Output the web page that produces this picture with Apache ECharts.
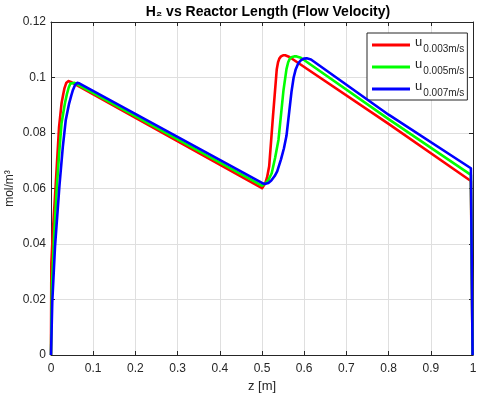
<!DOCTYPE html>
<html>
<head>
<meta charset="utf-8">
<script src="https://cdn.jsdelivr.net/npm/echarts@6/dist/echarts.min.js"></script>
<style>
html,body{margin:0;padding:0;background:#fff;}
#chart{width:480px;height:399px;}
</style>
</head>
<body>
<div id="chart"></div>
<script>
// ---- data ----
const velocityLabels = ['0.003m/s', '0.005m/s', '0.007m/s'];
const seriesColors = ['#ff0000', '#00ff00', '#0000ff'];

const zRed  = [0, 0.0008, 0.005, 0.011, 0.016, 0.019, 0.025, 0.029, 0.032, 0.036, 0.041, 0.047,
               0.5, 0.504, 0.508, 0.512, 0.517, 0.526, 0.535, 0.538, 0.541, 0.545, 0.550, 0.555, 0.565, 0.8, 0.995, 0.999];
const h2Red = [0, 0.033, 0.046, 0.061, 0.074, 0.082, 0.0907, 0.0940, 0.0962, 0.0980, 0.0987, 0.0984,
               0.0601, 0.0608, 0.0620, 0.0640, 0.0680, 0.0860, 0.1030, 0.1055, 0.1068, 0.1076, 0.1080, 0.1080, 0.1074, 0.0833, 0.0627, 0];

const zGreen  = [0, 0.002, 0.007, 0.014, 0.020, 0.025, 0.033, 0.038, 0.042, 0.046, 0.050, 0.056,
                 0.5, 0.508, 0.515, 0.523, 0.531, 0.539, 0.551, 0.558, 0.562, 0.566, 0.571, 0.576, 0.582, 0.592, 0.8, 0.995, 0.999];
const h2Green = [0, 0.024, 0.042, 0.061, 0.074, 0.0835, 0.0907, 0.0942, 0.0964, 0.0978, 0.0984, 0.0981,
                 0.0610, 0.0618, 0.0630, 0.0655, 0.0710, 0.0775, 0.0955, 0.1030, 0.1055, 0.1068, 0.1074, 0.1076, 0.1076, 0.1071, 0.0850, 0.0649, 0];

const zBlue  = [0, 0.003, 0.0095, 0.020, 0.028, 0.035, 0.043, 0.048, 0.052, 0.057, 0.062, 0.068,
                0.5, 0.503, 0.506, 0.510, 0.515, 0.522, 0.530, 0.536, 0.545, 0.552, 0.558, 0.564, 0.570, 0.575, 0.580, 0.586, 0.592, 0.599, 0.606, 0.616, 0.8, 0.995, 0.999];
const h2Blue = [0, 0.019, 0.039, 0.061, 0.075, 0.0847, 0.0907, 0.0935, 0.0955, 0.0973, 0.0981, 0.0978,
                0.0620, 0.0617, 0.0616, 0.0617, 0.0620, 0.0629, 0.0645, 0.0662, 0.0705, 0.0745, 0.0790, 0.0870, 0.0950, 0.1000, 0.1030, 0.1051, 0.1062, 0.1068, 0.1069, 0.1065, 0.0866, 0.0673, 0];

const zTicks = [0, 0.1, 0.2, 0.3, 0.4, 0.5, 0.6, 0.7, 0.8, 0.9, 1];
const h2Ticks = [0, 0.02, 0.04, 0.06, 0.08, 0.1, 0.12];

// ---- chart ----
const zip = (xs, ys) => xs.map((x, i) => [x, ys[i]]);
const seriesData = [zip(zRed, h2Red), zip(zGreen, h2Green), zip(zBlue, h2Blue)];
const FONT = 'Liberation Sans, Arial, Helvetica, sans-serif';
const TXT = '#262626';

const chart = echarts.init(document.getElementById('chart'), null, {renderer: 'canvas'});
const baseAxis = {
  axisLine: {show: true, onZero: false, lineStyle: {color: '#262626', width: 1}},
  axisTick: {show: true, inside: true, length: 4, lineStyle: {color: '#262626'}},
  splitLine: {show: false},
};
chart.setOption({
  animation: false,
  backgroundColor: '#fff',
  title: {
    text: 'H\u2082 vs Reactor Length (Flow Velocity)',
    left: 263, top: 0, textAlign: 'center',
    textStyle: {fontFamily: FONT, fontSize: 14, fontWeight: 'bold', color: '#000'}
  },
  grid: {left: 51, right: 7, top: 22, bottom: 44, containLabel: false, outerBoundsMode: 'none'},
  legend: {
    orient: 'vertical', left: 367, top: 33,
    padding: [3, 3, 2, 5], itemGap: 4,
    itemWidth: 38, itemHeight: 3, icon: 'rect',
    backgroundColor: '#fff', borderColor: '#262626', borderWidth: 1,
    data: velocityLabels.map(v => 'u ' + v),
    formatter: name => '{u|u}{s|' + name.slice(2) + '}',
    textStyle: {
      fontFamily: FONT, color: TXT,
      rich: {
        u: {fontFamily: FONT, fontSize: 13, lineHeight: 13, padding: [0, 0, 5, 0], color: TXT},
        s: {fontFamily: FONT, fontSize: 10, lineHeight: 10, padding: [8, 0, 0, 1], color: TXT}
      }
    }
  },
  xAxis: [
    Object.assign({}, baseAxis, {
      type: 'value', min: 0, max: 1, interval: 0.1, position: 'bottom',
      name: 'z [m]', nameLocation: 'middle', nameGap: 23,
      nameTextStyle: {fontFamily: FONT, fontSize: 13, color: TXT},
      axisLabel: {fontFamily: FONT, fontSize: 12, color: TXT, margin: 8,
                  formatter: v => String(+v.toFixed(2))},
      splitLine: {show: true, lineStyle: {color: '#dfdfdf', width: 1}}
    }),
    Object.assign({}, baseAxis, {
      type: 'value', min: 0, max: 1, interval: 0.1, position: 'top',
      axisLabel: {show: false}
    })
  ],
  yAxis: [
    Object.assign({}, baseAxis, {
      type: 'value', min: 0, max: 0.12, interval: 0.02, position: 'left',
      name: 'mol/m\u00b3', nameLocation: 'middle', nameGap: 35, nameMoveOverlap: false,
      nameTextStyle: {fontFamily: FONT, fontSize: 12, color: TXT},
      axisLabel: {fontFamily: FONT, fontSize: 12, color: TXT, margin: 5,
                  formatter: v => String(+v.toFixed(3))},
      splitLine: {show: true, lineStyle: {color: '#dfdfdf', width: 1}}
    }),
    Object.assign({}, baseAxis, {
      type: 'value', min: 0, max: 0.12, interval: 0.02, position: 'right',
      axisLabel: {show: false}
    })
  ],
  series: seriesData.map((d, i) => ({
    name: 'u ' + velocityLabels[i],
    type: 'line',
    data: d,
    xAxisIndex: 0, yAxisIndex: 0,
    showSymbol: false, symbol: 'none',
    smooth: false,
    lineStyle: {color: seriesColors[i], width: 2.6, join: 'round'},
    itemStyle: {color: seriesColors[i]},
    z: 2 + i
  }))
});
</script>
</body>
</html>
